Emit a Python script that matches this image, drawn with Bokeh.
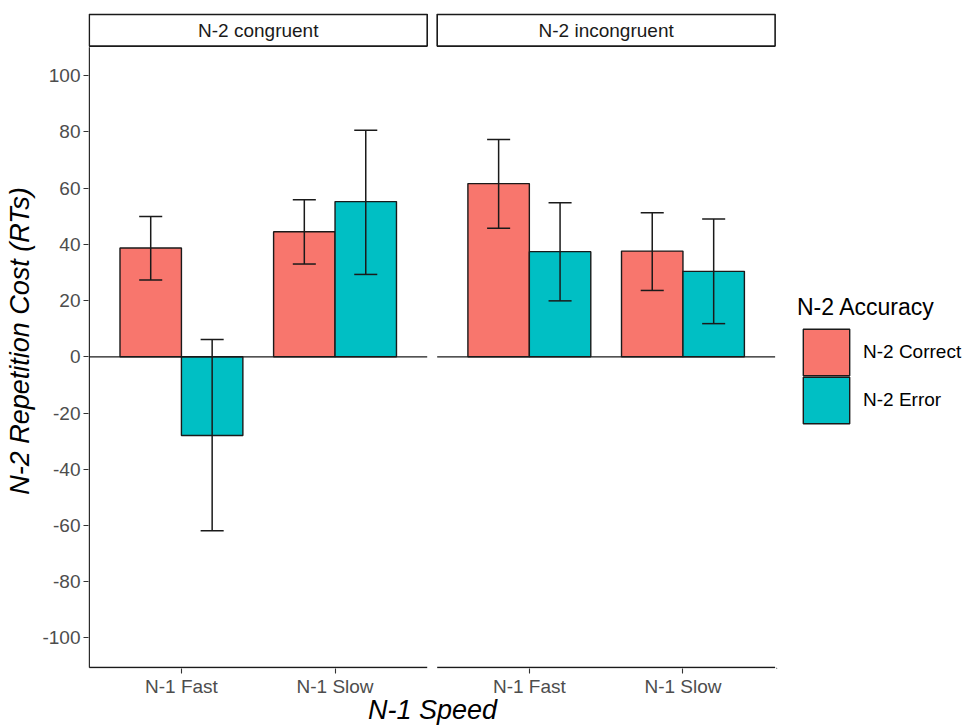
import math
from bokeh.plotting import figure
from bokeh.layouts import row
from bokeh.models import (ColumnDataSource, Range1d, FixedTicker, Legend, LegendItem)
from bokeh.core.properties import value
from bokeh.embed import file_html
from bokeh.resources import INLINE

# ---------------- data ----------------
panels = ["N-2 congruent", "N-2 incongruent"]
speeds = ["N-1 Fast", "N-1 Slow"]
accuracy = ["N-2 Correct", "N-2 Error"]
legend_title = "N-2 Accuracy"
x_title = "N-1 Speed"
y_title = "N-2 Repetition Cost (RTs)"
fill_colors = ["#F8766D", "#00BFC4"]

# cell order: congruent/Fast, congruent/Slow, incongruent/Fast, incongruent/Slow
cost_correct = [38.7, 44.5, 61.6, 37.6]
lower_correct = [27.3, 33.0, 45.7, 23.6]
upper_correct = [49.9, 55.9, 77.3, 51.2]
cost_error = [-28.0, 55.2, 37.4, 30.4]
lower_error = [-61.9, 29.3, 19.9, 11.8]
upper_error = [6.2, 80.6, 54.8, 49.0]

y_ticks = [-100, -80, -60, -40, -20, 0, 20, 40, 60, 80, 100]

# ---------------- layout constants ----------------
FONT = "Liberation Sans"
PAD = 0.6          # discrete-scale expansion
SPAN = 2.2         # panel width in x units
GAP = 0.065        # gap between panels
BAR_W = 0.4
CAP_HALF = 0.075
Y_LO, Y_HI = -110.5, 110.1
STRIP_LO, STRIP_HI = 110.5, 121.8

panel_left = [0.4 + i * (SPAN + GAP) for i in range(len(panels))]
panel_right = [l + SPAN for l in panel_left]
cell_x = [round(panel_left[i] + PAD + j, 4) for i in range(len(panels)) for j in range(len(speeds))]

p = figure(width=776, height=727,
           x_range=Range1d(0.395, 4.874), y_range=Range1d(-110.85, 122.1),
           output_backend="svg", toolbar_location=None,
           min_border_left=88, min_border_right=0,
           min_border_top=13, min_border_bottom=54)
p.grid.visible = False
p.outline_line_color = None
p.background_fill_color = "white"

# axes
p.xaxis.ticker = FixedTicker(ticks=cell_x)
p.xaxis.major_label_overrides = {x: speeds[k % len(speeds)] for k, x in enumerate(cell_x)}
p.yaxis.ticker = FixedTicker(ticks=y_ticks)
p.yaxis.major_label_overrides = {t: str(t) for t in y_ticks}
for ax in (p.xaxis, p.yaxis):
    ax.axis_line_color = None
    ax.major_tick_in = 0
    ax.major_tick_out = 5
    ax.major_tick_line_color = "#333333"
    ax.major_tick_line_width = 1.1
    ax.minor_tick_line_color = None
    ax.major_label_text_font = FONT
    ax.major_label_text_font_size = "19px"
    ax.major_label_text_color = "#4D4D4D"
    ax.axis_label_text_font = FONT
    ax.axis_label_text_font_size = "27px"
    ax.axis_label_text_font_style = "italic"
    ax.axis_label_text_color = "black"
p.xaxis.major_label_standoff = 2
p.yaxis.major_label_standoff = 3
p.xaxis.axis_label = x_title
p.yaxis.axis_label = y_title
p.xaxis.axis_label_standoff = -5
p.yaxis.axis_label_standoff = 4

# axis lines drawn per panel
p.segment(x0=panel_left, y0=[Y_LO] * len(panels), x1=panel_right, y1=[Y_LO] * len(panels),
          line_color="#1a1a1a", line_width=1.3)
p.segment(x0=[panel_left[0]], y0=[Y_LO], x1=[panel_left[0]], y1=[Y_HI],
          line_color="#1a1a1a", line_width=1.3)

# bars
sources = []
for g, (vals, lo, hi) in enumerate([(cost_correct, lower_correct, upper_correct),
                                     (cost_error, lower_error, upper_error)]):
    xs = [x + (g - 0.5) * BAR_W for x in cell_x]
    src = ColumnDataSource(dict(x=xs, top=vals, lo=lo, hi=hi,
                                cl=[x - CAP_HALF for x in xs], cr=[x + CAP_HALF for x in xs]))
    p.vbar(x="x", width=BAR_W, top="top", bottom=0, source=src,
           fill_color=fill_colors[g], line_color="#1a1a1a", line_width=1.4)
    sources.append(src)

# zero lines per panel
p.segment(x0=panel_left, y0=[0] * len(panels), x1=panel_right, y1=[0] * len(panels),
          line_color="#1a1a1a", line_width=1.2)

# error bars
for src in sources:
    p.segment(x0="x", y0="lo", x1="x", y1="hi", source=src, line_color="#1a1a1a", line_width=1.5)
    p.segment(x0="cl", y0="lo", x1="cr", y1="lo", source=src, line_color="#1a1a1a", line_width=1.5)
    p.segment(x0="cl", y0="hi", x1="cr", y1="hi", source=src, line_color="#1a1a1a", line_width=1.5)

# facet strips
p.quad(left=panel_left, right=panel_right, bottom=[STRIP_LO] * len(panels), top=[STRIP_HI] * len(panels),
       fill_color="white", line_color="#1a1a1a", line_width=1.6)
p.text(x=[(l + r) / 2 for l, r in zip(panel_left, panel_right)],
       y=[(STRIP_LO + STRIP_HI) / 2] * len(panels), text=panels,
       text_font=value(FONT), text_font_size="19px", text_color="#1A1A1A",
       text_align="center", text_baseline="middle")

# ---------------- legend panel ----------------
lg = figure(width=189, height=727, x_range=Range1d(0, 1), y_range=Range1d(0, 1),
            output_backend="svg", toolbar_location=None,
            x_axis_location=None, y_axis_location=None, min_border=0)
lg.grid.visible = False
lg.outline_line_color = None
# key renderers: their single bar lies fully outside the visible ranges; only the legend shows them
key_renderers = [lg.vbar(x=[-5], top=[-5], bottom=[-6], width=0.1, fill_color=fill_colors[g],
                         line_color="#1a1a1a", line_width=1.4) for g in range(2)]
common = dict(orientation="vertical",
              label_text_font=FONT, label_text_font_size="19px", label_text_color="black",
              glyph_width=58, glyph_height=58, spacing=0, padding=0, margin=0,
              label_standoff=8, border_line_color=None, background_fill_alpha=0)
legend_a = Legend(items=[LegendItem(label=accuracy[0], renderers=[key_renderers[0]])],
                  location=(21, 287),
                  title=legend_title, title_text_font=FONT, title_text_font_size="23px",
                  title_text_font_style="normal", title_text_color="black", title_standoff=2,
                  **common)
legend_b = Legend(items=[LegendItem(label=accuracy[1], renderers=[key_renderers[1]])],
                  location=(21, 239), **common)
lg.add_layout(legend_a)
lg.add_layout(legend_b)

layout = row(p, lg)
open("out.html", "w").write(file_html(layout, INLINE))
